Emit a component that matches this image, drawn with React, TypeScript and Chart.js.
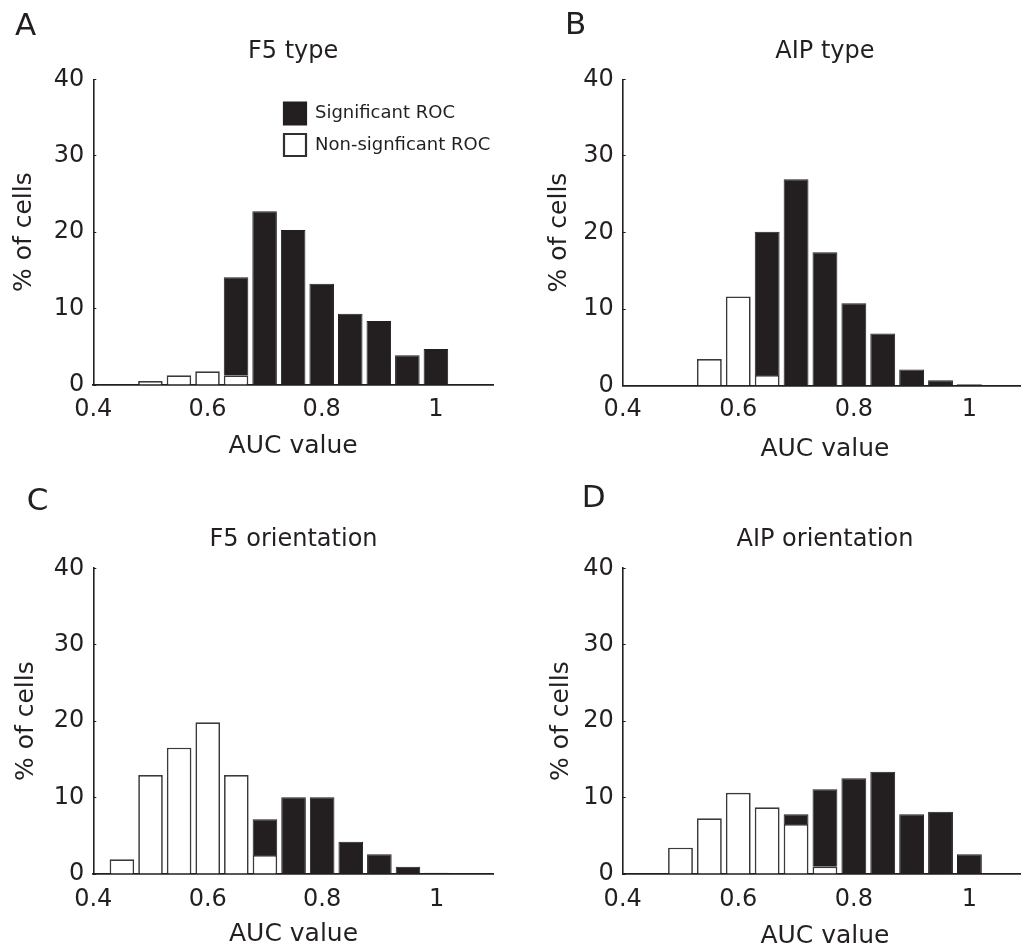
import React, { useEffect, useRef } from 'react';
import { Chart, registerables } from 'chart.js';

Chart.register(...registerables);

// ---------- data ----------
const binCenters = [0.45, 0.5, 0.55, 0.6, 0.65, 0.7, 0.75, 0.8, 0.85, 0.9, 0.95, 1.0, 1.05];
const xTickValues = [0.4, 0.6, 0.8, 1.0];
const xRange = [0.4, 1.1];
const yRange = [0, 40];
const yStep = 10;

const panelLetters = ['A', 'B', 'C', 'D'];
const panelTitles = ['F5 type', 'AIP type', 'F5 orientation', 'AIP orientation'];
const seriesLabels = ['Non-signficant ROC', 'Significant ROC'];
const xAxisLabel = 'AUC value';
const yAxisLabel = '% of cells';

const f5TypeNonSig = [0, 0.52, 1.26, 1.79, 1.26, 0, 0, 0, 0, 0, 0, 0, 0];
const f5TypeSig = [0, 0, 0, 0, 12.83, 22.72, 20.28, 13.26, 9.33, 8.37, 3.88, 4.71, 0];

const aipTypeNonSig = [0, 0, 3.48, 11.66, 1.39, 0, 0, 0, 0, 0, 0, 0, 0];
const aipTypeSig = [0, 0, 0, 0, 18.71, 26.94, 17.41, 10.75, 6.83, 2.13, 0.7, 0.2, 0];

const f5OriNonSig = [1.92, 12.96, 16.53, 19.85, 12.96, 2.49, 0, 0, 0, 0, 0, 0, 0];
const f5OriSig = [0, 0, 0, 0, 0, 4.66, 10.03, 10.03, 4.23, 2.57, 0.96, 0.15, 0];

const aipOriNonSig = [0, 3.45, 7.28, 10.64, 8.72, 6.54, 0.96, 0, 0, 0, 0, 0, 0];
const aipOriSig = [0, 0, 0, 0, 0, 1.27, 10.12, 12.52, 13.39, 7.81, 8.16, 2.57, 0];

const nonSigSeries = [f5TypeNonSig, aipTypeNonSig, f5OriNonSig, aipOriNonSig];
const sigSeries = [f5TypeSig, aipTypeSig, f5OriSig, aipOriSig];

// ---------- layout (page pixel coordinates) ----------
type Spec = {
  cl: number; ct: number; cw: number; ch: number;
  plotLeft: number; plotRight: number; plotTop: number; plotBottom: number;
  letterX: number; letterMid: number; titleMid: number;
  yTitleMid: number; xTitleMid: number; xTickMid: number;
  legend?: { x: number; y: number };
};

const specs: Spec[] = [
  { cl: 0, ct: 0, cw: 510, ch: 470, plotLeft: 93.3, plotRight: 493, plotTop: 79.3, plotBottom: 385,
    letterX: 15, letterMid: 27.3, titleMid: 51.7, yTitleMid: 24, xTitleMid: 446.4, xTickMid: 409.7,
    legend: { x: 284, y: 102.5 } },
  { cl: 510, ct: 0, cw: 520, ch: 470, plotLeft: 622.7, plotRight: 1027.2, plotTop: 79.3, plotBottom: 385.7,
    letterX: 565, letterMid: 26, titleMid: 51.7, yTitleMid: 559.5, xTitleMid: 449.4, xTickMid: 409.7 },
  { cl: 0, ct: 470, cw: 510, ch: 479, plotLeft: 93.3, plotRight: 493.8, plotTop: 568.3, plotBottom: 874,
    letterX: 26.7, letterMid: 502.3, titleMid: 539.8, yTitleMid: 26.4, xTitleMid: 934.7, xTickMid: 900 },
  { cl: 510, ct: 470, cw: 520, ch: 479, plotLeft: 622.7, plotRight: 1027.2, plotTop: 568.3, plotBottom: 874,
    letterX: 581.7, letterMid: 499.3, titleMid: 539.8, yTitleMid: 561.4, xTitleMid: 936.3, xTickMid: 900 },
];

const INK = '#231f20';
const FONT = 'DejaVu Sans';

const legendPlacer = {
  id: 'legendPlacer',
  afterLayout(chart: any, _args: any, opts: any) {
    const lg = chart.legend;
    if (!lg || !opts || !opts.enabled) return;
    const pad = lg.options.labels.padding;
    lg.left = opts.x - pad;
    lg.top = opts.y - pad;
    lg.right = lg.left + lg.width;
    lg.bottom = chart.chartArea.bottom;
    lg.height = lg.bottom - lg.top;
  },
};

function buildConfig(i: number): any {
  const s = specs[i];
  const letterSize = 31, letterLH = letterSize * 0.8;
  const subPadTop = s.letterMid - s.ct - letterLH / 2;
  const subBottom = s.letterMid - s.ct + letterLH / 2;
  const titleSize = 24, titleLH = 24;
  const titlePadTop = (s.titleMid - s.ct) - titleLH / 2 - subBottom;
  const titlePadBottom = (s.plotTop - s.titleMid) - titleLH / 2;
  const padLeft = s.letterX - s.cl;
  const padRight = s.cl + s.cw - s.plotRight;
  const yAxisW = s.plotLeft - s.letterX;
  const xAxisH = s.ct + s.ch - s.plotBottom;
  const tickSize = 24;
  const xTickPad = s.xTickMid - s.plotBottom - tickSize / 2;
  const axTitleSize = 25;
  const yTitleLH = axTitleSize * 0.8;
  const yTitlePad = s.yTitleMid - s.letterX - yTitleLH / 2;
  const xTitleLH = axTitleSize;
  const xTitlePadBottom = s.ct + s.ch - s.xTitleMid - xTitleLH / 2;

  const nonSig = nonSigSeries[i];
  const sig = sigSeries[i];

  return {
    type: 'bar',
    data: {
      datasets: [
        {
          label: seriesLabels[0],
          data: binCenters.map((x, k) => ({ x, y: nonSig[k] })),
          backgroundColor: '#ffffff',
          borderColor: '#3a3a3a',
          borderWidth: 1.7,
          borderSkipped: 'bottom',
          barPercentage: 0.86,
          categoryPercentage: 1,
        },
        {
          label: seriesLabels[1],
          data: binCenters.map((x, k) => ({ x, y: sig[k] })),
          backgroundColor: INK,
          borderColor: INK,
          borderWidth: 1,
          barPercentage: 0.86,
          categoryPercentage: 1,
        },
      ],
    },
    options: {
      responsive: false,
      maintainAspectRatio: false,
      animation: false,
      events: [],
      layout: { padding: { left: padLeft, right: padRight, top: 0, bottom: 0 } },
      scales: {
        x: {
          type: 'linear',
          min: xRange[0],
          max: xRange[1],
          stacked: true,
          offset: false,
          afterBuildTicks: (axis: any) => { axis.ticks = xTickValues.map((v) => ({ value: v })); },
          afterFit: (axis: any) => { axis.height = xAxisH; },
          grid: { display: false, drawTicks: false, offset: false },
          border: { display: true, color: INK, width: 1.8 },
          ticks: {
            padding: xTickPad,
            color: INK,
            maxRotation: 0,
            autoSkip: false,
            font: { family: FONT, size: tickSize, lineHeight: 1 },
            callback: (v: any) => String(Math.round(Number(v) * 10) / 10),
          },
          title: {
            display: true,
            text: xAxisLabel,
            color: INK,
            font: { family: FONT, size: axTitleSize, lineHeight: 1 },
            padding: { top: 0, bottom: xTitlePadBottom },
          },
        },
        y: {
          type: 'linear',
          min: yRange[0],
          max: yRange[1],
          stacked: true,
          afterFit: (axis: any) => { axis.width = yAxisW; },
          grid: { display: true, drawOnChartArea: false, drawTicks: true, tickLength: -3, tickColor: INK, tickWidth: 1 },
          border: { display: true, color: INK, width: 1.6 },
          ticks: {
            stepSize: yStep,
            padding: 12,
            color: INK,
            font: { family: FONT, size: tickSize, lineHeight: 1 },
          },
          title: {
            display: true,
            text: yAxisLabel,
            color: INK,
            font: { family: FONT, size: axTitleSize, lineHeight: 0.8 },
            padding: { top: yTitlePad, bottom: 0 },
          },
        },
      },
      plugins: {
        tooltip: { enabled: false },
        subtitle: {
          display: true,
          text: panelLetters[i],
          align: 'start',
          position: 'top',
          fullSize: true,
          weight: 3000,
          color: INK,
          font: { family: FONT, size: letterSize, lineHeight: 0.8, weight: 'normal' },
          padding: { top: subPadTop, bottom: 0 },
        },
        title: {
          display: true,
          text: panelTitles[i],
          align: 'center',
          position: 'top',
          fullSize: false,
          weight: 2000,
          color: INK,
          font: { family: FONT, size: titleSize, lineHeight: 1, weight: 'normal' },
          padding: { top: titlePadTop, bottom: titlePadBottom },
        },
        legend: {
          display: !!s.legend,
          position: 'chartArea',
          align: 'start',
          labels: {
            boxWidth: 22,
            boxHeight: 22,
            padding: 9.5,
            color: INK,
            font: { family: FONT, size: 18 },
            sort: (a: any, b: any) => b.datasetIndex - a.datasetIndex,
            generateLabels: (chart: any) =>
              Chart.defaults.plugins.legend.labels.generateLabels(chart).map((l: any) => ({ ...l, lineWidth: 2.2, strokeStyle: l.datasetIndex === 0 ? '#303030' : INK })),
          },
        },
        legendPlacer: s.legend
          ? { enabled: true, x: s.legend.x - s.cl, y: s.legend.y - s.ct }
          : { enabled: false },
      },
    },
    plugins: [legendPlacer],
  };
}

function Panel({ index }: { index: number }) {
  const ref = useRef<HTMLCanvasElement | null>(null);
  const s = specs[index];
  useEffect(() => {
    if (!ref.current) return;
    const chart = new Chart(ref.current, buildConfig(index));
    return () => chart.destroy();
  }, [index]);
  return (
    <div style={{ position: 'absolute', left: s.cl, top: s.ct, width: s.cw, height: s.ch }}>
      <canvas ref={ref} width={s.cw} height={s.ch} style={{ width: s.cw, height: s.ch, display: 'block' }} />
    </div>
  );
}

export default function App() {
  return (
    <div
      style={{
        position: 'fixed',
        left: 0,
        top: 0,
        width: 1021,
        height: 949,
        overflow: 'hidden',
        background: '#ffffff',
      }}
    >
      {specs.map((_, i) => (
        <Panel key={i} index={i} />
      ))}
    </div>
  );
}
